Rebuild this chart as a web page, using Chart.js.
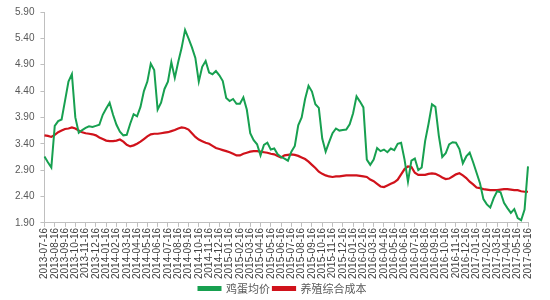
<!DOCTYPE html>
<html>
<head>
<meta charset="utf-8">
<script src="https://cdn.jsdelivr.net/npm/chart.js@4.4.0/dist/chart.umd.min.js"></script>
<style>
  html, body { margin: 0; padding: 0; background: #fff; }
  .chart-container { position: relative; width: 550px; height: 300px; }
</style>
</head>
<body>
<div class="chart-container">
  <canvas id="myChart"></canvas>
</div>
<script>
// month tick labels (one every 3 data points)
const monthLabels = [
  '2013-07-16','2013-08-16','2013-09-16','2013-10-16','2013-11-16','2013-12-16',
  '2014-01-16','2014-02-16','2014-03-16','2014-04-16','2014-05-16','2014-06-16',
  '2014-07-16','2014-08-16','2014-09-16','2014-10-16','2014-11-16','2014-12-16',
  '2015-01-16','2015-02-16','2015-03-16','2015-04-16','2015-05-16','2015-06-16',
  '2015-07-16','2015-08-16','2015-09-16','2015-10-16','2015-11-16','2015-12-16',
  '2016-01-16','2016-02-16','2016-03-16','2016-04-16','2016-05-16','2016-06-16',
  '2016-07-16','2016-08-16','2016-09-16','2016-10-16','2016-11-16','2016-12-16',
  '2017-01-16','2017-02-16','2017-03-16','2017-04-16','2017-05-16','2017-06-16'
];

// 鸡蛋均价
const eggPrice = [
  3.16,3.05,2.95,3.74,3.83,3.86,4.22,4.58,4.72,3.90,3.61,3.66,
  3.70,3.73,3.72,3.74,3.76,3.95,4.07,4.18,3.95,3.76,3.63,3.56,
  3.57,3.78,3.96,3.92,4.10,4.40,4.58,4.92,4.80,4.05,4.18,4.44,
  4.58,4.95,4.65,4.95,5.22,5.56,5.40,5.23,5.03,4.58,4.86,4.97,
  4.75,4.72,4.78,4.70,4.59,4.27,4.21,4.25,4.16,4.16,4.28,4.05,
  3.60,3.47,3.39,3.18,3.38,3.42,3.29,3.31,3.20,3.15,3.12,3.08,
  3.25,3.36,3.75,3.90,4.25,4.50,4.39,4.15,4.08,3.50,3.25,3.43,
  3.60,3.69,3.65,3.66,3.67,3.77,3.98,4.30,4.20,4.09,3.10,3.00,
  3.10,3.32,3.26,3.29,3.24,3.31,3.28,3.40,3.42,3.10,2.68,3.08,
  3.12,2.90,2.95,3.45,3.78,4.15,4.10,3.55,3.15,3.22,3.39,3.43,
  3.42,3.30,3.03,3.16,3.23,3.05,2.85,2.65,2.35,2.25,2.19,2.37,
  2.50,2.48,2.28,2.18,2.09,2.16,1.99,1.95,2.15,2.97
];

// 养殖综合成本
const farmCost = [
  3.56,3.55,3.53,3.57,3.62,3.65,3.68,3.69,3.71,3.69,3.65,3.62,
  3.60,3.59,3.58,3.56,3.52,3.49,3.46,3.45,3.45,3.46,3.48,3.44,
  3.38,3.35,3.37,3.40,3.44,3.49,3.54,3.58,3.59,3.59,3.60,3.61,
  3.62,3.64,3.66,3.69,3.71,3.70,3.67,3.60,3.53,3.48,3.45,3.42,
  3.40,3.36,3.32,3.30,3.28,3.26,3.24,3.21,3.18,3.18,3.21,3.23,
  3.25,3.26,3.26,3.25,3.24,3.23,3.21,3.20,3.17,3.14,3.18,3.19,
  3.20,3.19,3.17,3.14,3.11,3.06,3.00,2.94,2.87,2.83,2.80,2.78,
  2.77,2.78,2.78,2.79,2.80,2.80,2.80,2.80,2.79,2.78,2.77,2.72,
  2.69,2.64,2.59,2.58,2.61,2.64,2.67,2.72,2.82,2.92,2.97,2.96,
  2.85,2.81,2.81,2.81,2.83,2.84,2.83,2.80,2.76,2.73,2.74,2.78,
  2.82,2.84,2.80,2.75,2.68,2.63,2.57,2.56,2.54,2.53,2.52,2.52,
  2.52,2.53,2.54,2.54,2.53,2.52,2.52,2.50,2.49,2.49
];

const yTicks = [1.90, 2.40, 2.90, 3.40, 3.90, 4.40, 4.90, 5.40, 5.90];

const labels = eggPrice.map((v, i) => (i % 3 === 0 ? monthLabels[i / 3] : ''));

// nudge the legend so it sits centred under the plot like the original
const legendShift = {
  id: 'legendShift',
  afterLayout(chart) {
    const lg = chart.legend;
    if (!lg) return;
    lg.left += 14;
    lg.right += 14;
    if (lg.adjustHitBoxes) lg.adjustHitBoxes();
  }
};

new Chart(document.getElementById('myChart'), {
  type: 'line',
  data: {
    labels: labels,
    datasets: [{
      label: '鸡蛋均价',
      data: eggPrice,
      borderColor: '#17a050',
      backgroundColor: '#17a050',
      borderWidth: 2,
      pointRadius: 0,
      tension: 0
    }, {
      label: '养殖综合成本',
      data: farmCost,
      borderColor: '#d0121b',
      backgroundColor: '#d0121b',
      borderWidth: 2.2,
      pointRadius: 0,
      tension: 0
    }]
  },
  plugins: [legendShift],
  options: {
    responsive: true,
    maintainAspectRatio: false,
    animation: false,
    layout: { padding: { left: 9, right: 22, top: 6, bottom: -4 } },
    plugins: {
      tooltip: { enabled: false },
      legend: {
        position: 'bottom',
        labels: {
          boxWidth: 22,
          boxHeight: 3,
          padding: 3,
          color: '#595959',
          font: { family: "'Noto Sans CJK SC', 'Liberation Sans'", size: 11 }
        }
      }
    },
    scales: {
      x: {
        offset: false,
        grid: { display: true, drawOnChartArea: false, drawTicks: true, tickLength: 4, color: '#bfbfbf' },
        border: { color: '#bfbfbf' },
        ticks: {
          autoSkip: false,
          maxRotation: 90,
          minRotation: 90,
          padding: 1,
          color: '#404040',
          font: { family: "'Liberation Sans'", size: 10 },
          callback: function (value) {
            const l = this.getLabelForValue(value);
            return l === '' ? null : l;
          }
        }
      },
      y: {
        min: 1.9,
        max: 5.9,
        afterBuildTicks: (axis) => { axis.ticks = yTicks.map(v => ({ value: v })); },
        grid: { display: true, drawOnChartArea: false, drawTicks: true, tickLength: 4, color: '#bfbfbf' },
        border: { color: '#bfbfbf' },
        ticks: {
          padding: 6,
          color: '#595959',
          font: { family: "'Liberation Sans'", size: 10 },
          callback: (v) => Number(v).toFixed(2)
        }
      }
    }
  }
});
</script>
</body>
</html>
